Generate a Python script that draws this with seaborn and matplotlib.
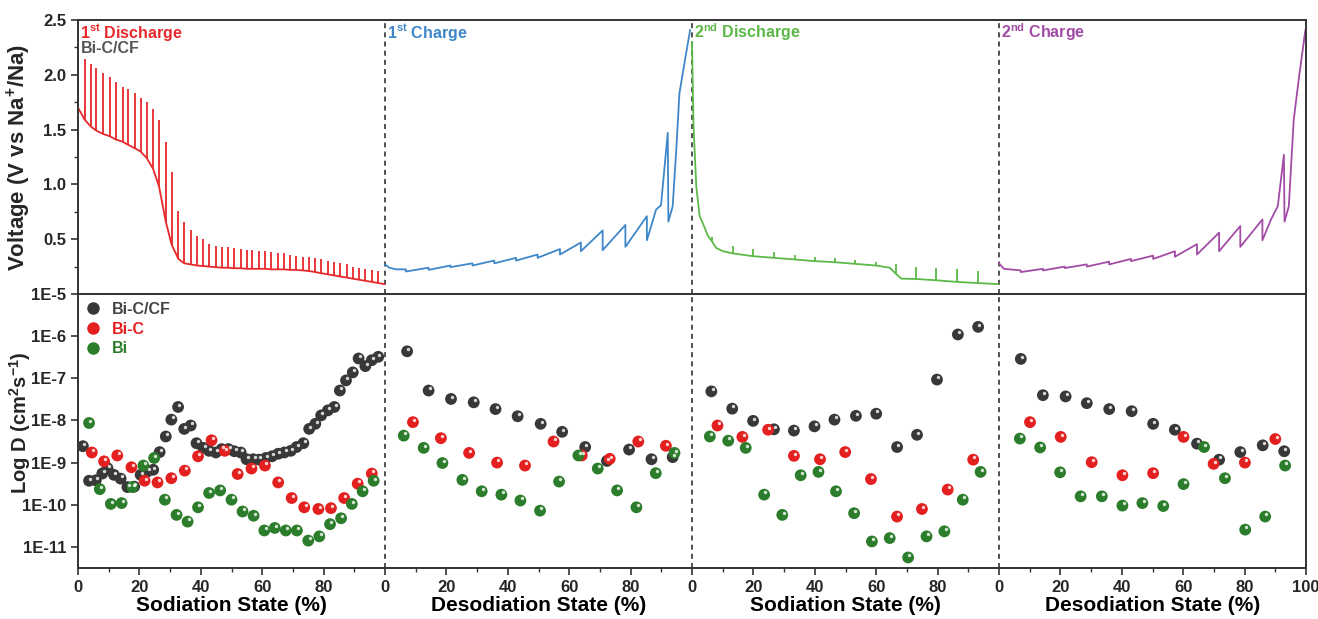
import numpy as np
import pandas as pd
import matplotlib
matplotlib.use('Agg')
import matplotlib.pyplot as plt
import matplotlib.transforms as mtransforms
from matplotlib.lines import Line2D
import seaborn as sns

# ---- voltage profiles (GITT), x in % of each step ----
# 1st discharge: baseline points, spike tops at the same x (last point has no spike)
dis1_x = [0, 2.2, 4.1, 6.0, 8.2, 10.3, 12.3, 14.5, 16.4, 18.5, 20.4, 22.4, 24.5, 26.4, 28.6,
          30.5, 32.7, 34.6, 36.7, 38.7, 40.8, 42.7, 44.9, 46.8, 48.9, 50.9, 53.0, 54.9, 56.8,
          58.8, 61.0, 62.8, 65.0, 67.0, 69.0, 71.0, 73.2, 75.1, 77.3, 79.1, 81.3, 83.3, 85.3,
          87.5, 89.5, 91.6, 93.6, 95.8, 97.8, 99.8]
dis1_v = [1.70, 1.59, 1.53, 1.49, 1.46, 1.44, 1.41, 1.39, 1.36, 1.33, 1.30, 1.24, 1.14, 0.98,
          0.66, 0.45, 0.32, 0.28, 0.27, 0.26, 0.255, 0.25, 0.245, 0.24, 0.24, 0.235, 0.235,
          0.23, 0.23, 0.23, 0.23, 0.225, 0.225, 0.225, 0.22, 0.22, 0.215, 0.21, 0.20, 0.19,
          0.18, 0.17, 0.16, 0.15, 0.14, 0.13, 0.12, 0.11, 0.10, 0.09]
dis1_top = [2.24, 2.14, 2.10, 2.06, 2.02, 1.98, 1.93, 1.89, 1.87, 1.83, 1.79, 1.75, 1.69, 1.59,
            1.39, 1.11, 0.76, 0.66, 0.58, 0.53, 0.50, 0.46, 0.44, 0.43, 0.43, 0.42, 0.41, 0.40,
            0.40, 0.39, 0.39, 0.38, 0.37, 0.37, 0.36, 0.35, 0.34, 0.34, 0.33, 0.32, 0.30, 0.29,
            0.28, 0.27, 0.25, 0.24, 0.23, 0.22, 0.21]

# 1st charge trace
chg1_x = [0, 1.4, 3.6, 6.8, 6.8, 14.2, 14.2, 21.3, 21.3, 28.5, 28.5, 35.6, 35.6, 42.7, 42.7,
          49.7, 49.7, 57.0, 57.0, 63.8, 63.8, 70.9, 70.9, 78.3, 78.3, 85.3, 85.3, 88.3, 89.9,
          92.1, 92.3, 93.7, 94.8, 95.9, 97.5, 99.4]
chg1_v = [0.27, 0.24, 0.225, 0.225, 0.205, 0.24, 0.22, 0.26, 0.245, 0.28, 0.26, 0.305, 0.28,
          0.33, 0.305, 0.36, 0.33, 0.41, 0.36, 0.47, 0.39, 0.58, 0.40, 0.63, 0.43, 0.71, 0.49,
          0.77, 0.81, 1.47, 0.66, 0.80, 1.28, 1.83, 2.10, 2.41]

# 2nd discharge: baseline + spikes
dis2_x = [0, 0.5, 1.4, 2.5, 3.6, 5.2, 6.5, 7.9, 10.1, 13.4, 19.9, 26.7, 33.4, 40.0, 46.5,
          53.2, 59.8, 64.4, 66.6, 68.2, 73.1, 79.6, 86.4, 93.0, 99.8]
dis2_v = [2.30, 1.53, 0.98, 0.71, 0.64, 0.53, 0.48, 0.42, 0.39, 0.37, 0.345, 0.33, 0.315,
          0.30, 0.29, 0.275, 0.26, 0.24, 0.18, 0.14, 0.137, 0.125, 0.11, 0.10, 0.09]
dis2_spike_x = [6.5, 13.4, 19.9, 26.7, 33.4, 40.0, 46.5, 53.2, 59.8, 66.6, 73.1, 79.6, 86.4, 93.0]
dis2_spike_lo = [0.48, 0.37, 0.345, 0.33, 0.315, 0.30, 0.29, 0.275, 0.26, 0.18, 0.137, 0.125, 0.11, 0.10]
dis2_spike_hi = [0.52, 0.44, 0.41, 0.38, 0.36, 0.34, 0.33, 0.31, 0.29, 0.27, 0.25, 0.24, 0.23, 0.21]

# 2nd charge trace
chg2_x = [0, 1.6, 7.1, 7.1, 14.3, 14.3, 21.4, 21.4, 28.6, 28.6, 35.9, 35.9, 43.0, 43.0, 50.2,
          50.2, 57.3, 57.3, 64.5, 64.5, 71.7, 71.7, 78.6, 78.6, 85.8, 85.8, 88.6, 90.8, 92.8,
          93.0, 94.4, 96.0, 97.6, 99.8]
chg2_v = [0.28, 0.23, 0.215, 0.20, 0.23, 0.215, 0.25, 0.237, 0.27, 0.25, 0.295, 0.27, 0.32,
          0.30, 0.35, 0.32, 0.39, 0.34, 0.455, 0.36, 0.56, 0.39, 0.62, 0.43, 0.68, 0.49, 0.68,
          0.80, 1.27, 0.66, 0.80, 1.59, 1.95, 2.41]

# ---- diffusion coefficients, log10(D / cm2 s-1) ----
cf_x_dis1 = [1.6, 3.6, 5.8, 7.9, 9.6, 11.7, 13.9, 16.1, 18.3, 20.4, 22.6, 24.5, 26.6, 28.6, 30.4,
             32.6, 34.6, 36.7, 38.6, 40.8, 42.7, 44.9, 46.8, 49.0, 50.9, 53.0, 54.9, 57.1, 59.0,
             61.2, 63.2, 65.2, 67.2, 69.3, 71.2, 73.4, 75.3, 77.3, 79.2, 81.4, 83.5, 85.3, 87.3,
             89.5, 91.4, 93.6, 95.7, 97.8]
cf_d_dis1 = [-8.61, -9.43, -9.42, -9.26, -9.13, -9.29, -9.38, -9.58, -9.57, -9.29, -9.21, -9.17,
             -8.75, -8.38, -7.98, -7.68, -8.20, -8.12, -8.54, -8.65, -8.72, -8.76, -8.68, -8.68,
             -8.73, -8.76, -8.92, -8.92, -8.93, -8.89, -8.85, -8.79, -8.76, -8.72, -8.63, -8.54,
             -8.20, -8.08, -7.88, -7.76, -7.68, -7.29, -7.05, -6.86, -6.53, -6.71, -6.57, -6.49]
bic_x_dis1 = [4.5, 8.5, 12.8, 17.4, 21.7, 25.9, 30.4, 34.8, 39.1, 43.5, 47.8, 52.0, 56.5, 60.9,
              65.2, 69.6, 73.7, 78.3, 82.4, 86.7, 91.1, 95.7]
bic_d_dis1 = [-8.76, -8.97, -8.83, -9.11, -9.43, -9.47, -9.37, -9.19, -8.85, -8.47, -8.72, -9.27,
              -9.14, -9.07, -9.47, -9.84, -10.06, -10.10, -10.08, -9.84, -9.50, -9.26]
bi_x_dis1 = [3.6, 7.1, 10.7, 14.2, 17.7, 21.3, 24.8, 28.3, 32.1, 35.7, 39.1, 42.7, 46.3, 50.0,
             53.6, 57.2, 60.7, 64.1, 67.7, 71.3, 75.0, 78.6, 82.1, 85.7, 89.2, 92.7, 96.3]
bi_d_dis1 = [-8.06, -9.63, -9.98, -9.96, -9.58, -9.07, -8.89, -9.88, -10.24, -10.40, -10.06,
             -9.72, -9.66, -9.88, -10.16, -10.26, -10.61, -10.55, -10.61, -10.61, -10.85, -10.75,
             -10.46, -10.32, -9.98, -9.68, -9.43]

cf_x_chg1 = [7.2, 14.2, 21.5, 28.9, 36.0, 43.2, 50.7, 57.7, 65.2, 72.3, 79.5, 86.8, 93.7]
cf_d_chg1 = [-6.36, -7.29, -7.49, -7.57, -7.73, -7.90, -8.08, -8.27, -8.63, -8.96, -8.69, -8.92, -8.87]
bic_x_chg1 = [9.1, 18.2, 27.4, 36.5, 45.6, 54.9, 64.1, 73.2, 82.5, 91.5]
bic_d_chg1 = [-8.04, -8.42, -8.77, -9.00, -9.07, -8.50, -8.83, -8.91, -8.50, -8.60]
bi_x_chg1 = [6.1, 12.6, 18.7, 25.2, 31.5, 37.9, 44.1, 50.5, 56.7, 63.0, 69.3, 75.6, 81.9, 88.2, 94.3]
bi_d_chg1 = [-8.36, -8.65, -9.01, -9.41, -9.68, -9.76, -9.90, -10.14, -9.45, -8.83, -9.14, -9.66,
             -10.06, -9.25, -8.77]

cf_x_dis2 = [6.3, 13.1, 19.9, 26.7, 33.2, 39.9, 46.4, 53.4, 60.0, 66.8, 73.3, 79.8, 86.6, 93.2]
cf_d_dis2 = [-7.31, -7.72, -8.01, -8.21, -8.24, -8.14, -7.98, -7.89, -7.84, -8.63, -8.34, -7.03,
             -5.96, -5.78]
bic_x_dis2 = [8.3, 16.4, 24.8, 33.2, 41.7, 49.9, 58.3, 66.8, 74.9, 83.3, 91.6]
bic_d_dis2 = [-8.12, -8.39, -8.22, -8.84, -8.92, -8.75, -9.39, -10.28, -10.10, -9.64, -8.93]
bi_x_dis2 = [5.8, 11.8, 17.5, 23.5, 29.4, 35.4, 41.2, 46.9, 52.8, 58.6, 64.4, 70.4, 76.4, 82.2,
             88.2, 94.0]
bi_d_dis2 = [-8.38, -8.48, -8.65, -9.76, -10.24, -9.30, -9.22, -9.68, -10.20, -10.87, -10.79,
             -11.25, -10.75, -10.63, -9.88, -9.22]

cf_x_chg2 = [7.1, 14.3, 21.7, 28.6, 35.9, 43.2, 50.2, 57.3, 64.5, 71.7, 78.6, 85.9, 92.9]
cf_d_chg2 = [-6.54, -7.40, -7.43, -7.59, -7.73, -7.78, -8.08, -8.22, -8.55, -8.93, -8.75, -8.59, -8.73]
bic_x_chg2 = [10.1, 20.1, 30.2, 40.2, 50.2, 60.1, 69.9, 80.1, 90.0]
bic_d_chg2 = [-8.04, -8.39, -8.99, -9.30, -9.25, -8.39, -9.03, -9.00, -8.44]
bi_x_chg2 = [6.8, 13.4, 19.9, 26.6, 33.5, 40.2, 46.7, 53.5, 60.1, 66.8, 73.6, 80.2, 86.7, 93.2]
bi_d_chg2 = [-8.43, -8.64, -9.23, -9.80, -9.80, -10.02, -9.96, -10.03, -9.51, -8.63, -9.37,
             -10.59, -10.28, -9.07]

step_names = ['1$^{st}$ Discharge', '1$^{st}$ Charge', '2$^{nd}$ Discharge', '2$^{nd}$ Charge']
step_axis = ['Sodiation State (%)', 'Desodiation State (%)', 'Sodiation State (%)', 'Desodiation State (%)']
samples = ['Bi-C/CF', 'Bi-C', 'Bi']

step_colors = ['#e8282b', '#3f87c9', '#5cb947', '#a24ca6']
sample_colors = {'Bi-C/CF': '#383838', 'Bi-C': '#e41f1f', 'Bi': '#2b7d2b'}
frame = '#333333'

sns.set_style('ticks')
plt.rcParams['font.family'] = ['Liberation Sans', 'DejaVu Sans']
plt.rcParams['font.weight'] = 'bold'
plt.rcParams['axes.labelweight'] = 'bold'
plt.rcParams['mathtext.fontset'] = 'custom'
plt.rcParams['mathtext.bf'] = 'Liberation Sans:bold'
plt.rcParams['mathtext.rm'] = 'Liberation Sans:bold'
plt.rcParams['mathtext.default'] = 'bf'

fig = plt.figure(figsize=(13.18, 6.19), dpi=100)
ax_v = fig.add_axes([78 / 1318, 1 - 294 / 619, 1228 / 1318, 274 / 619])
ax_d = fig.add_axes([78 / 1318, 1 - 568 / 619, 1228 / 1318, 274 / 619], sharex=ax_v)

# ---- voltage panel ----
def draw_trace(x, v, seg, color):
    sns.lineplot(x=np.array(x) + 100 * seg, y=v, sort=False, estimator=None,
                 color=color, lw=1.3, ax=ax_v)

draw_trace(dis1_x, dis1_v, 0, step_colors[0])
ax_v.vlines(np.array(dis1_x[:-1]), dis1_v[:-1], dis1_top, color=step_colors[0], lw=1.3)
draw_trace(chg1_x, chg1_v, 1, step_colors[1])
draw_trace(dis2_x, dis2_v, 2, step_colors[2])
ax_v.vlines(np.array(dis2_spike_x) + 200, dis2_spike_lo, dis2_spike_hi, color=step_colors[2], lw=1.3)
draw_trace(chg2_x, chg2_v, 3, step_colors[3])

ax_v.set_ylim(0, 2.5)
ax_v.set_yticks([0.5, 1.0, 1.5, 2.0, 2.5])
ax_v.set_yticks([0.25, 0.75, 1.25, 1.75, 2.25], minor=True)
ax_v.set_ylabel('Voltage (V vs Na$^{+}$/Na)', fontsize=16, fontweight='bold')
ax_v.tick_params(axis='x', which='both', bottom=False, labelbottom=False)

blend_v = mtransforms.blended_transform_factory(ax_v.transData, ax_v.transAxes)
for seg in range(4):
    ax_v.text(seg * 100 + 0.8, 0.955, step_names[seg], color=step_colors[seg], fontsize=11.5,
              fontweight='bold', ha='left', va='center', transform=blend_v)
ax_v.text(0.8, 0.895, 'Bi-C/CF', color='#555555', fontsize=11.5, fontweight='bold',
          ha='left', va='center', transform=blend_v)

# ---- diffusion panel ----
seg_data = [
    [(cf_x_dis1, cf_d_dis1), (bic_x_dis1, bic_d_dis1), (bi_x_dis1, bi_d_dis1)],
    [(cf_x_chg1, cf_d_chg1), (bic_x_chg1, bic_d_chg1), (bi_x_chg1, bi_d_chg1)],
    [(cf_x_dis2, cf_d_dis2), (bic_x_dis2, bic_d_dis2), (bi_x_dis2, bi_d_dis2)],
    [(cf_x_chg2, cf_d_chg2), (bic_x_chg2, bic_d_chg2), (bi_x_chg2, bi_d_chg2)],
]
rows = []
for seg, groups in enumerate(seg_data):
    for name, (xs, ds) in zip(samples, groups):
        for xv, dv in zip(xs, ds):
            rows.append({'x': xv + 100 * seg, 'D': 10 ** dv, 'sample': name})
df = pd.DataFrame(rows)

sns.scatterplot(data=df, x='x', y='D', hue='sample', hue_order=samples, palette=sample_colors,
                s=72, linewidth=0, legend=False, ax=ax_d, zorder=3)
shine = mtransforms.offset_copy(ax_d.transData, fig=fig, x=0.9, y=1.6, units='points')
ax_d.scatter(df['x'], df['D'], s=6, color='white', alpha=0.8, linewidth=0,
             transform=shine, zorder=4)

ax_d.set_yscale('log')
ax_d.set_ylim(10 ** -11.5, 1e-5)
dticks = [1e-11, 1e-10, 1e-9, 1e-8, 1e-7, 1e-6, 1e-5]
ax_d.set_yticks(dticks)
ax_d.set_yticklabels(['1E-11', '1E-10', '1E-9', '1E-8', '1E-7', '1E-6', '1E-5'])
ax_d.yaxis.set_minor_locator(matplotlib.ticker.NullLocator())
ax_d.set_ylabel('Log D (cm$^{2}$s$^{-1}$)', fontsize=14.5, fontweight='bold')

handles = [Line2D([], [], marker='o', ls='none', markersize=9, markeredgewidth=0,
                  markerfacecolor=sample_colors[s]) for s in samples]
leg = ax_d.legend(handles, samples, loc='upper left', bbox_to_anchor=(-0.006, 1.018), frameon=False,
                  fontsize=11.5, handletextpad=0.6, labelspacing=0.3, borderaxespad=0.4,
                  handlelength=1.2)
for txt, s in zip(leg.get_texts(), samples):
    txt.set_color(sample_colors[s] if s != 'Bi-C/CF' else '#444444')
    txt.set_fontweight('bold')

ax_d.set_xlim(0, 400)
ax_d.set_xticks(np.arange(0, 401, 20))
ax_d.set_xticklabels([str(int(t % 100)) if t < 400 else '100' for t in np.arange(0, 401, 20)])
ax_d.set_xticks(np.arange(10, 400, 20), minor=True)
ax_d.set_xlabel('')
blend_d = mtransforms.blended_transform_factory(ax_d.transData, ax_d.transAxes)
for seg in range(4):
    ax_d.text(seg * 100 + 50, -0.137, step_axis[seg], fontsize=15, fontweight='bold',
              ha='center', va='center', color='black', transform=blend_d)

# ---- frames, separators, ticks ----
for ax in (ax_v, ax_d):
    for sp in ax.spines.values():
        sp.set_visible(True)
        sp.set_color(frame)
        sp.set_linewidth(1.4)
    for b in (100, 200, 300):
        ax.axvline(b, color=frame, lw=1.2, ls=(0, (3, 2.5)), zorder=1)
    ax.tick_params(axis='both', which='major', direction='out', length=5, width=1.2,
                   color=frame, labelsize=12)
    ax.tick_params(axis='both', which='minor', direction='out', length=3, width=1.0, color=frame)
    for lab in ax.get_xticklabels() + ax.get_yticklabels():
        lab.set_fontweight('bold')
ax_v.yaxis.set_label_coords(-0.037, 0.5)
ax_d.yaxis.set_label_coords(-0.037, 0.53)

fig.savefig('out.png', dpi=100)
